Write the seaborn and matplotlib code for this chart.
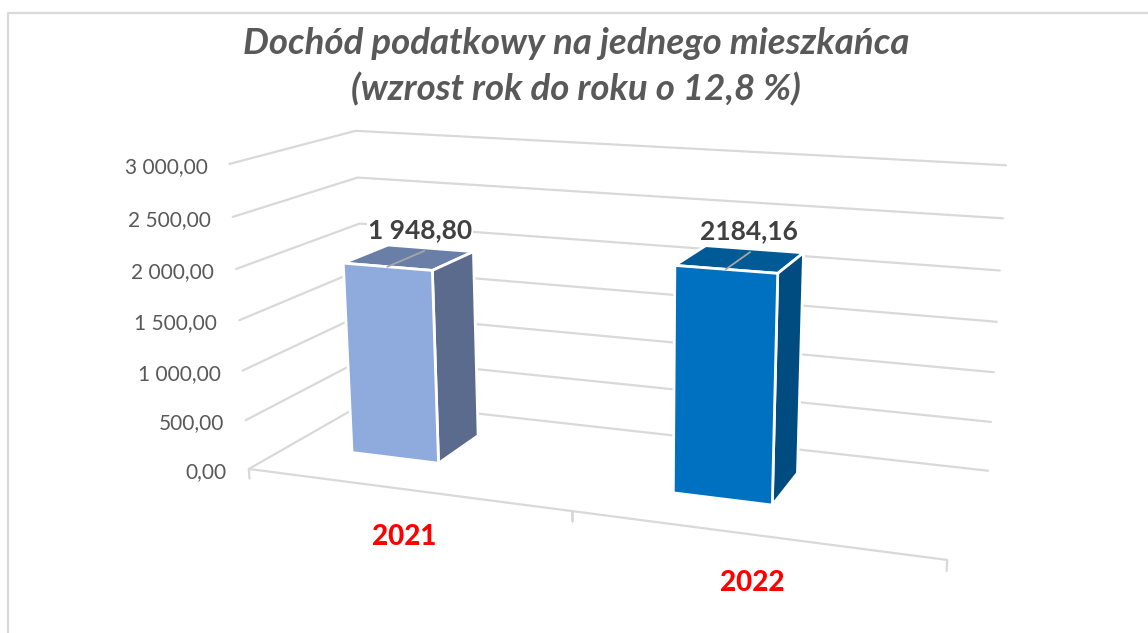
import numpy as np
import pandas as pd
import matplotlib
matplotlib.use("Agg")
import matplotlib.pyplot as plt
import seaborn as sns

title_lines = ["Dochód podatkowy na jednego mieszkańca", "(wzrost rok do roku o 12,8 %)"]
years = ["2021", "2022"]
values = [1948.80, 2184.16]
value_labels = ["1 948,80", "2184,16"]
y_ticks = [0, 500, 1000, 1500, 2000, 2500, 3000]
y_tick_labels = ["0,00", "500,00", "1 000,00", "1 500,00", "2 000,00", "2 500,00", "3 000,00"]
front_colors = ["#8faadc", "#0070c0"]
side_colors = ["#5b6b8d", "#004b80"]
top_colors = ["#6a7fa8", "#005a96"]

# camera calibration: (category pos, value, depth) -> pixel
calib_world = [(0, 0, 0), (2, 0, 0), (1, 0, 0), (0, 0, 1), (2, 0, 1), (0, 3000, 0), (0, 3000, 1), (2, 3000, 1)]
calib_px = [(249, 469), (947, 560), (573, 511), (367, 401), (988, 471), (229, 164), (356, 131), (1006, 165)]

bar_left = [0.207, 1.209]
bar_right = [0.490, 1.491]
bar_z = [(0.326, 0.712), (0.32, 0.71)]
label_dx = [-4, -1]


def fit_camera(world, px):
    rows = []
    for (x, v, z), (u, w) in zip(world, px):
        p = [x, v / 3000, z, 1]
        rows.append(p + [0, 0, 0, 0] + [-u * c for c in p])
        rows.append([0, 0, 0, 0] + p + [-w * c for c in p])
    return np.linalg.svd(np.array(rows, float))[2][-1].reshape(3, 4)


cam = fit_camera(calib_world, calib_px)


def project(x, v, z):
    h = cam @ np.array([x, v / 3000, z, 1.0])
    return h[0] / h[2], h[1] / h[2]


def face(ax, corners, color):
    pts = [project(*c) for c in corners]
    ax.fill([p[0] for p in pts], [p[1] for p in pts], facecolor=color, edgecolor="white",
            linewidth=2.0, joinstyle="miter", zorder=3)


sns.set_theme(style="white")
plt.rcParams["font.family"] = ["Lato", "DejaVu Sans"]

fig, ax = plt.subplots(figsize=(11.48, 6.33), dpi=100)
fig.subplots_adjust(0, 0, 1, 1)

grid_rows = []
for v in y_ticks:
    for x, z in [(0, 0), (0, 1), (2, 1)]:
        u, w = project(x, v, z)
        grid_rows.append({"px": u, "py": w, "line": f"g{v}"})
for x, vv in [(0, -100), (0, 0), (1, 0), (1, -100), (1, 0), (2, 0), (2, -100)]:
    u, w = project(x, vv, 0)
    grid_rows.append({"px": u, "py": w, "line": "floor"})
grid_df = pd.DataFrame(grid_rows)
sns.lineplot(data=grid_df, x="px", y="py", units="line", estimator=None, sort=False,
             color="#d9d9d9", linewidth=1.6, ax=ax, legend=False)

# chart frame
ax.plot([8, 8, 1148], [633, 13, 13], color="#d9d9d9", linewidth=1.6, zorder=1)

for i, val in enumerate(values):
    x0, x1 = bar_left[i], bar_right[i]
    z0, z1 = bar_z[i]
    xc = (x0 + x1) / 2
    face(ax, [(x0, val, z0), (x1, val, z0), (x1, val, z1), (x0, val, z1)], top_colors[i])
    face(ax, [(x1, 0, z0), (x1, 0, z1), (x1, val, z1), (x1, val, z0)], side_colors[i])
    face(ax, [(x0, 0, z0), (x1, 0, z0), (x1, val, z0), (x0, val, z0)], front_colors[i])
    # leader line across the top, stops short of the back edge
    p0, p1 = project(xc, val, z0), project(xc, val, z0 + 0.85 * (z1 - z0))
    ax.plot([p0[0], p1[0]], [p0[1], p1[1]], color="#a6a6a6", linewidth=1.3, zorder=4)
    ax.text(p1[0] + label_dx[i], p1[1] - 21, value_labels[i], ha="center", va="center", fontsize=19,
            fontweight="bold", color="#404040", zorder=5, bbox=dict(facecolor="white", edgecolor="none", pad=0.5))
    u, w = project(i + 0.5, 0, 0)
    ax.text(u - 0.5, w + 48, years[i], ha="center", va="center", fontsize=20, fontweight=900,
            color="#ff0000", zorder=5)

for v, lab in zip(y_ticks, y_tick_labels):
    u, w = project(0, v, 0)
    ax.text(u - 22, w + 3, lab, ha="right", va="center", fontsize=15, color="#595959")

for line, ypos in zip(title_lines, [43, 89]):
    ax.text(576, ypos, line, ha="center", va="center", fontsize=26.4, fontweight="bold", fontstyle="italic",
            color="#595959")

ax.set_xlim(0, 1148)
ax.set_ylim(633, 0)
ax.axis("off")

fig.savefig("out.png", dpi=100)
